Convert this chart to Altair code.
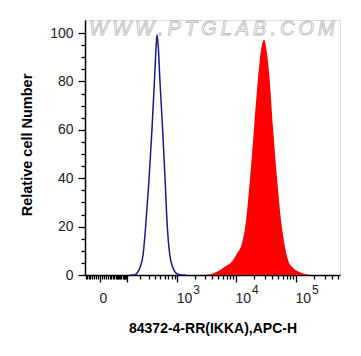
import altair as alt
import pandas as pd

# Blue (control) histogram: fluorescence value -> relative cell number
blue_x = [120, 147, 172, 197, 231, 259, 305, 348, 389, 415, 433, 458, 487, 548, 608, 670, 739, 846, 956, 1170, 1400]
blue_y = [0, 0, 0.8, 2.9, 8.4, 19.4, 40, 60.7, 81.4, 94, 99.3, 94, 81.4, 60.7, 40, 19.4, 8.4, 2.9, 0.8, 0, 0]

# Red (stained) histogram
red_x = [2790, 3667, 5001, 6556, 8586, 10410, 12380, 14170, 17170, 20020, 23350, 26210, 29400,
         32360, 36320, 41530, 48420, 58650, 64560, 75240, 89430, 108300, 141600, 185300]
red_y = [0, 0.3, 1.5, 3.5, 5.6, 9, 12.5, 19.4, 40, 60.7, 81.4, 93, 97.2,
         93, 81.4, 60.7, 40, 19.4, 12.5, 5.6, 3, 1.5, 0.4, 0]

# Axis ticks
x_major = [0, 100, 1000, 10000, 100000]
x_minor = (list(range(-40, 0, 5)) + list(range(5, 100, 5)) + list(range(200, 1000, 100))
           + list(range(2000, 10000, 1000)) + list(range(20000, 100000, 10000))
           + [200000, 300000, 400000, 500000])
x_ticks = sorted(x_major + x_minor)
exp_pos = [1000, 10000, 100000]
exp_txt = ["3", "4", "5"]
y_ticks = list(range(0, 101, 5))

x_title = "84372-4-RR(IKKA),APC-H"
y_title = "Relative cell Number"
watermark = "\u2009".join("WWW.PTGLAB.COM")

FONT = "Liberation Sans"

blue_df = pd.DataFrame({"x": blue_x, "y": blue_y})
red_df = pd.DataFrame({"x": red_x, "y": red_y})
exp_df = pd.DataFrame({"x": exp_pos, "t": exp_txt})
wm_df = pd.DataFrame({"t": [watermark]})

major_test = " || ".join(f"datum.value == {v}" for v in x_major)

xscale = alt.Scale(type="symlog", constant=55, domain=[-43, 541000], nice=False)
yscale = alt.Scale(domain=[0, 105.4], nice=False)

x_axis = alt.Axis(
    values=x_ticks,
    labelExpr="datum.value == 0 ? '0' : (datum.value == 1000 || datum.value == 10000 || datum.value == 100000) ? '10' : ''",
    tickSize={"condition": {"test": major_test, "value": 7}, "value": 4},
    tickColor="black", tickWidth=1.3, domainColor="black", domainWidth=1.5,
    labelFont=FONT, labelFontSize=14, labelColor="#222222", labelAlign="left",
    labelBaseline="top", labelPadding=9, labelOffset=-1,
    labelOverlap=False, labelFlush=False, labelBound=False,
    title=x_title, titleFont=FONT, titleFontWeight="bold", titleFontSize=14,
    titleColor="black", titleY=53, titleBaseline="middle", grid=False,
)

y_axis = alt.Axis(
    values=y_ticks,
    labelExpr="datum.value % 20 == 0 ? format(datum.value, 'd') : ''",
    tickSize={"condition": {"test": "datum.value % 20 == 0", "value": 7}, "value": 4},
    tickColor="black", tickWidth=1.3, domainColor="black", domainWidth=1.5,
    labelFont=FONT, labelFontSize=14, labelColor="#222222", labelAlign="right",
    labelBaseline="middle", labelPadding=5, labelOverlap=False, labelFlush=False, labelBound=False,
    title=y_title, titleFont=FONT, titleFontWeight="bold", titleFontSize=14.5,
    titleColor="black", titleAngle=270, titleX=-58, titleY=124.5,
    titleBaseline="middle", titleAlign="center", grid=False,
)

X = alt.X("x:Q", scale=xscale, axis=x_axis)
Y = alt.Y("y:Q", scale=yscale, axis=y_axis)

red = alt.Chart(red_df).mark_area(color="#ff0000", interpolate="monotone").encode(x=X, y=Y)
blue = alt.Chart(blue_df).mark_line(color="#1a1a8f", strokeWidth=1.5, interpolate="monotone").encode(x=X, y=Y)

wm = alt.Chart(wm_df).mark_text(
    font=FONT, fontSize=20, fontStyle="italic", fill="#ffffff", stroke="#b8b8b8",
    strokeWidth=0.8, align="center", baseline="middle"
).encode(text="t:N", x=alt.value(127), y=alt.value(8.5))

exps = alt.Chart(exp_df).mark_text(
    font=FONT, fontSize=12, color="#222222", align="left", baseline="alphabetic", dx=16
).encode(x=X, text="t:N", y=alt.value(273.5))

chart = alt.layer(red, blue, wm, exps).properties(
    width=255, height=255,
    autosize=alt.AutoSizeParams(type="none"),
    padding={"left": 77, "top": 12, "right": 13, "bottom": 73},
).configure_view(stroke="black", strokeWidth=1.5).configure(background="white")

chart.save("out.html", embed_options={"renderer": "svg", "actions": False})
